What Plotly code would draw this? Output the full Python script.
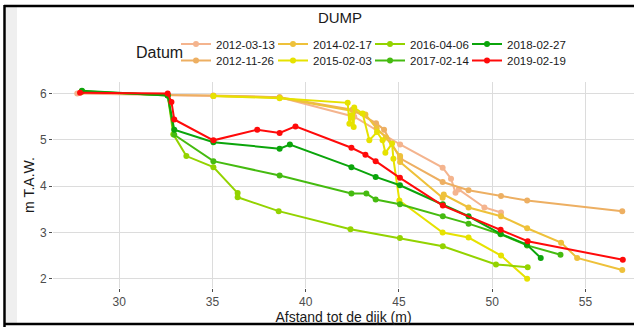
import plotly.graph_objects as go

# ---- data ----
dates = ["2012-03-13", "2012-11-26", "2014-02-17", "2015-02-03",
         "2016-04-06", "2017-02-14", "2018-02-27", "2019-02-19"]
colors = ["#F4B48E", "#EDAF62", "#EEC13A", "#E6E200",
          "#93D300", "#45BB10", "#0BA50B", "#FF0A0A"]

x_20120313 = [27.75, 32.6, 35.05, 38.6, 42.6, 45.06, 47.34, 47.79, 48.03, 48.2, 49.58, 50.47]
y_20120313 = [6.0, 5.96, 5.95, 5.92, 5.5, 4.90, 4.40, 4.16, 3.86, 3.93, 3.54, 3.43]

x_20121126 = [32.6, 35.05, 38.6, 42.5, 43.77, 44.2, 45.06, 47.34, 48.73, 50.47, 51.87, 56.97]
y_20121126 = [5.97, 5.96, 5.92, 5.65, 5.36, 5.22, 4.6, 4.09, 3.91, 3.79, 3.69, 3.46]

x_20140217 = [35.05, 38.6, 42.6, 43.2, 43.8, 44.3, 45.06, 45.06, 47.34, 47.4, 48.73, 50.47, 51.87, 53.69, 54.55, 56.97]
y_20140217 = [5.95, 5.91, 5.62, 5.55, 5.25, 5.05, 4.65, 4.52, 3.75, 3.82, 3.54, 3.35, 3.09, 2.78, 2.45, 2.19]

x_20150203 = [35.05, 38.6, 42.25, 42.34, 42.43, 42.57, 42.6, 43.05, 43.41, 43.82, 44.12, 44.27, 44.63, 44.7, 45.02, 47.34, 48.73, 50.47, 51.87]
y_20150203 = [5.95, 5.9, 5.80, 5.35, 5.53, 5.28, 5.70, 5.57, 4.99, 5.17, 4.99, 4.72, 4.92, 4.59, 3.69, 3.0, 2.89, 2.5, 2.0]

x_20160406 = [28.0, 32.6, 32.9, 33.6, 35.05, 36.35, 36.35, 38.55, 42.4, 45.05, 47.35, 50.2, 51.9]
y_20160406 = [6.04, 5.97, 5.12, 4.65, 4.41, 3.85, 3.76, 3.46, 3.07, 2.88, 2.70, 2.31, 2.25]

x_20170214 = [28.0, 32.6, 32.95, 35.05, 38.6, 42.45, 43.25, 43.75, 45.05, 47.35, 48.73, 50.45, 51.87, 53.66]
y_20170214 = [6.05, 5.96, 5.11, 4.54, 4.23, 3.84, 3.84, 3.71, 3.61, 3.35, 3.19, 2.96, 2.72, 2.52]

x_20180227 = [28.0, 32.6, 32.95, 35.05, 38.6, 39.15, 42.45, 43.75, 45.05, 47.35, 48.73, 50.45, 51.85, 52.6]
y_20180227 = [6.06, 5.96, 5.22, 4.95, 4.81, 4.90, 4.41, 4.20, 4.02, 3.61, 3.35, 2.97, 2.74, 2.45]

x_20190219 = [27.9, 32.6, 32.8, 32.95, 35.05, 37.4, 38.6, 39.45, 42.45, 43.2, 43.75, 45.05, 47.35, 50.45, 51.9, 57.0]
y_20190219 = [6.02, 6.0, 5.82, 5.44, 4.99, 5.22, 5.15, 5.29, 4.83, 4.68, 4.54, 4.18, 3.58, 3.06, 2.81, 2.41]

xs = [x_20120313, x_20121126, x_20140217, x_20150203, x_20160406, x_20170214, x_20180227, x_20190219]
ys = [y_20120313, y_20121126, y_20140217, y_20150203, y_20160406, y_20170214, y_20180227, y_20190219]

x_ticks = [30, 35, 40, 45, 50, 55]
y_ticks = [2, 3, 4, 5, 6]

title_text = "DUMP"
x_title = "Afstand tot de dijk (m)"
y_title = "m T.A.W."
legend_title = "Datum"

# ---- figure ----
W, H = 634, 327
L, R, T, B = 53, 0, 82, 39
pw, ph = W - L - R, H - T - B

def px(xp):
    return (xp - L) / pw

def py(yp):
    return (H - B - yp) / ph

fig = go.Figure()
legend_layouts = {}
for i, d in enumerate(dates):
    col, row = i // 2, i % 2
    lid = "legend" if i == 0 else f"legend{i + 1}"
    fig.add_trace(go.Scatter(
        x=xs[i], y=ys[i], name=d, mode="lines+markers",
        line=dict(color=colors[i], width=2),
        marker=dict(color=colors[i], size=6),
        legend=lid,
        hoverinfo="x+y+name",
    ))
    legend_layouts[lid] = dict(
        orientation="h", x=px(176 + 97 * col), xanchor="left",
        y=py(44 + 16.5 * row), yanchor="middle",
        font=dict(size=11.5, color="#1A1A1A"),
        bgcolor="rgba(0,0,0,0)", itemclick=False, itemdoubleclick=False)

grid = "#DCDCDC"
fig.update_layout(
    template="none",
    width=W, height=H,
    margin=dict(l=L, r=R, t=T, b=B, pad=0, autoexpand=False),
    paper_bgcolor="white", plot_bgcolor="white",
    font=dict(family="Liberation Sans, Arial, sans-serif", color="#1A1A1A"),
    title=dict(text=title_text, x=px(340), xanchor="center", xref="paper",
               y=1 - 18 / H, yanchor="middle", yref="container",
               font=dict(size=15, color="#1A1A1A")),
    xaxis=dict(range=[26.45, 57.6], tickvals=x_ticks, showgrid=True, gridcolor=grid,
               gridwidth=1.3, zeroline=False, ticks="outside", ticklen=3,
               tickcolor="#4D4D4D", tickfont=dict(size=12, color="#4D4D4D"),
               title=dict(text=x_title, font=dict(size=14, color="#1A1A1A"), standoff=0),
               showline=False, automargin=False),
    yaxis=dict(range=[1.8, 6.25], tickvals=y_ticks, showgrid=True, gridcolor=grid,
               gridwidth=1.3, zeroline=False, ticks="outside", ticklen=3,
               tickcolor="#4D4D4D", tickfont=dict(size=12, color="#4D4D4D"),
               title=dict(text=y_title, font=dict(size=14, color="#1A1A1A"), standoff=2),
               showline=False, automargin=False),
    showlegend=True,
    **legend_layouts,
)

fig.add_annotation(text=legend_title, xref="paper", yref="paper", x=px(159), y=py(52),
                   xanchor="center", yanchor="middle", showarrow=False,
                   font=dict(size=16, color="#1A1A1A"))

# frame of the picture
fig.add_shape(type="rect", xref="paper", yref="paper", x0=px(6), x1=px(17), y0=py(323), y1=py(7),
              line=dict(width=0), fillcolor="#EFEFEF", layer="below")
fig.add_shape(type="line", xref="paper", yref="paper", x0=px(4.5), x1=px(4.5), y0=py(5), y1=py(327),
              line=dict(color="black", width=2.5))
fig.add_shape(type="line", xref="paper", yref="paper", x0=px(4), x1=px(640), y0=py(6), y1=py(6),
              line=dict(color="black", width=2.5))
fig.add_shape(type="line", xref="paper", yref="paper", x0=px(4), x1=px(640), y0=py(324), y1=py(324),
              line=dict(color="black", width=2.5))

fig.write_html("out.html", config={"displayModeBar": False},
               post_script="document.body.style.margin='0px';document.body.style.overflow='hidden';")
